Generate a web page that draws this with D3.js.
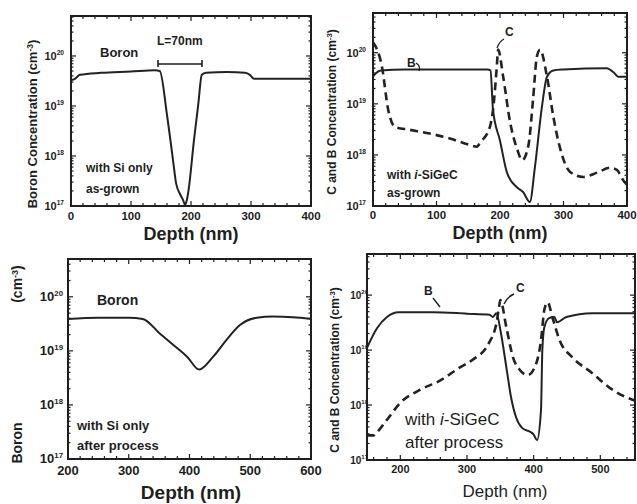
<!DOCTYPE html>
<html>
<head>
<meta charset="utf-8">
<script src="https://cdn.jsdelivr.net/npm/d3@7"></script>
<style>
body { margin: 0; background: #fff; }
svg { display: block; }
text { font-family: "Liberation Sans", Arial, sans-serif; fill: #1e1e1e; }
</style>
</head>
<body>
<svg id="chart" width="637" height="504"></svg>
<script>
// top left: Si only, as-grown
const depthSiGrown = [0, 5, 15, 50, 100, 140, 148, 160, 170, 175, 182, 187, 190, 193, 196, 205, 212, 218, 225, 260, 290, 298, 305, 330, 400];
const boronSiGrown = [3.3e19, 3.4e19, 4.2e19, 4.6e19, 4.9e19, 5.2e19, 5.0e19, 6.6e18, 8.3e17, 2.9e17, 1.7e17, 1.3e17, 1.05e17, 1.3e17, 2.1e17, 2.1e18, 1.05e19, 4.2e19, 4.6e19, 4.8e19, 4.6e19, 4.2e19, 3.5e19, 3.5e19, 3.5e19];

// top right: i-SiGeC, as-grown
const depthGeCGrownB = [0, 5, 12, 50, 180, 185, 189, 200, 211, 227, 236, 247, 255, 266, 274, 284, 300, 368, 380, 386, 400];
const boronGeCGrown = [3.4e19, 4.0e19, 4.5e19, 4.7e19, 4.7e19, 4.5e19, 7.6e18, 1.9e18, 4.5e17, 2.3e17, 1.9e17, 1.2e17, 5.8e17, 8.7e18, 3.4e19, 4.5e19, 4.7e19, 5.0e19, 4.0e19, 3.4e19, 3.4e19];
const depthGeCGrownC = [0, 14, 24, 35, 58, 121, 150, 164, 168, 184, 189, 195, 197, 205, 216, 227, 235, 245, 252, 258, 263, 274, 284, 295, 310, 331, 353, 373, 384, 394, 400];
const carbonGeCGrown = [1.6e20, 5.4e19, 7.6e18, 3.5e18, 3.1e18, 2.1e18, 1.6e18, 1.45e18, 1.7e18, 3.5e18, 7.6e18, 5.4e19, 1.15e20, 3.4e19, 4.3e18, 1.3e18, 7.9e17, 1.6e18, 1.2e19, 8.3e19, 1.15e20, 3.4e19, 5.6e18, 1.3e18, 4.7e17, 3.7e17, 4.5e17, 5.6e17, 5.1e17, 3.2e17, 2.6e17];

// bottom left: Si only, after process
const depthSiProc = [200, 250, 300, 323, 351, 373, 396, 416, 439, 461, 483, 511, 537, 570, 600];
const boronSiProc = [3.9e19, 4.1e19, 4.1e19, 3.9e19, 2.1e19, 1.3e19, 7.8e18, 4.5e18, 7.8e18, 1.6e19, 3.0e19, 4.1e19, 4.3e19, 4.2e19, 3.9e19];

// bottom right: i-SiGeC, after process
const depthGeCProcB = [150, 165, 180, 197, 250, 300, 334, 339, 344, 351, 359, 366, 374, 383, 396, 400, 405, 411, 413, 416, 423, 431, 435, 449, 488, 552];
const boronGeCProc = [1.1e19, 2.5e19, 4.0e19, 4.9e19, 4.9e19, 4.6e19, 4.4e19, 4.0e19, 4.7e19, 2.0e19, 4.9e18, 1.4e18, 5.8e17, 3.8e17, 3.2e17, 2.9e17, 2.3e17, 8.1e17, 1.0e19, 2.6e19, 3.8e19, 4.0e19, 3.2e19, 4.0e19, 4.7e19, 4.7e19];
const depthGeCProcC = [150, 160, 165, 180, 200, 230, 260, 290, 308, 333, 345, 348, 350, 359, 369, 379, 391, 404, 411, 416, 421, 428, 439, 458, 488, 513, 538, 552];
const carbonGeCProc = [2.8e17, 2.8e17, 3.2e17, 5.4e17, 1.1e18, 1.9e18, 2.8e18, 4.9e18, 6.6e18, 1.35e19, 3.5e19, 6.0e19, 8.1e19, 2.6e19, 7.4e18, 4.4e18, 3.5e18, 5.8e18, 1.5e19, 5.4e19, 7.4e19, 4.0e19, 1.5e19, 7.4e18, 3.8e18, 2.1e18, 1.4e18, 1.2e18];

const decades = [1e17, 1e18, 1e19, 1e20];
const xTicksGrown = [0, 100, 200, 300, 400];
const xTicksSiProc = [200, 300, 400, 500, 600];
const xTicksGeCProc = [200, 300, 400, 500];

const svg = d3.select('#chart');
const ink = '#1e1e1e';

const drawPanel = (p) => {
	const x = d3.scaleLinear().domain(p.xDomain).range([p.x0, p.x1]);
	const y = d3.scaleLog().domain([1e17, p.yMax]).range([p.y1, p.y0]);
	const g = svg.append('g');

	// inner ticks, all four sides
	const minorX = d3.range(Math.ceil(p.xDomain[0] / 20) * 20, p.xDomain[1] + 1, 20);
	minorX.forEach(v => {
		const len = v % 100 === 0 ? 5 : 3;
		g.append('line').attr('x1', x(v)).attr('x2', x(v)).attr('y1', p.y1).attr('y2', p.y1 - len)
			.attr('stroke', ink).attr('stroke-width', 1.2);
		g.append('line').attr('x1', x(v)).attr('x2', x(v)).attr('y1', p.y0).attr('y2', p.y0 + len)
			.attr('stroke', ink).attr('stroke-width', 1.2);
	});
	const minorY = [];
	decades.forEach(d => d3.range(1, 10).forEach(k => { if (d * k <= p.yMax) minorY.push([d * k, k === 1]); }));
	minorY.forEach(([v, major]) => {
		const len = major ? 5 : 2.5;
		g.append('line').attr('x1', p.x0).attr('x2', p.x0 + len).attr('y1', y(v)).attr('y2', y(v))
			.attr('stroke', ink).attr('stroke-width', 1.2);
		g.append('line').attr('x1', p.x1).attr('x2', p.x1 - len).attr('y1', y(v)).attr('y2', y(v))
			.attr('stroke', ink).attr('stroke-width', 1.2);
	});

	// curves
	const line = d3.line().x(d => x(d[0])).y(d => y(d[1])).curve(d3.curveMonotoneX);
	p.series.forEach(s => {
		g.append('path')
			.datum(d3.zip(s.x, s.y))
			.attr('d', line)
			.attr('fill', 'none')
			.attr('stroke', '#222')
			.attr('stroke-width', s.dashed ? 2.6 : 2)
			.attr('stroke-dasharray', s.dashed ? '8,5' : null)
			.attr('stroke-linejoin', 'round');
	});

	// frame
	g.append('rect').attr('x', p.x0).attr('y', p.y0).attr('width', p.x1 - p.x0).attr('height', p.y1 - p.y0)
		.attr('fill', 'none').attr('stroke', ink).attr('stroke-width', 2);

	// x tick labels
	p.xTicks.forEach(v => {
		g.append('text').attr('x', x(v)).attr('y', p.y1 + p.xLabelDy)
			.attr('text-anchor', 'middle').attr('font-size', p.xLabelSize).attr('font-weight', 'bold')
			.text(v);
	});

	// y tick labels
	decades.forEach(v => {
		const t = g.append('text').attr('x', p.yLabelX).attr('y', y(v) + 4)
			.attr('text-anchor', 'end').attr('font-size', p.yLabelSize).attr('font-weight', 'bold');
		t.append('tspan').text('10');
		t.append('tspan').attr('dy', -5).attr('font-size', p.yLabelSize * 0.6).text(Math.round(Math.log10(v)));
	});

	// x title
	g.append('text').attr('x', p.xTitle[0]).attr('y', p.xTitle[1])
		.attr('text-anchor', 'middle').attr('font-size', p.xTitle[2]).attr('font-weight', p.xTitle[3])
		.text('Depth (nm)');

	return { x, y, g };
};

const yTitle = (txt, cx, cy, size) => {
	const t = svg.append('text').attr('transform', `translate(${cx},${cy}) rotate(-90)`)
		.attr('text-anchor', 'middle').attr('font-size', size).attr('font-weight', 'bold');
	t.append('tspan').text(txt + ' (cm');
	t.append('tspan').attr('dy', -4).attr('font-size', size * 0.65).text('-3');
	t.append('tspan').attr('dy', 4).text(')');
};

const label = (parts, px, py, size, weight) => {
	const t = svg.append('text').attr('x', px).attr('y', py).attr('font-size', size).attr('font-weight', weight || 'bold');
	parts.forEach(([s, it]) => t.append('tspan').attr('font-style', it ? 'italic' : null).text(s));
};

const path = (d, w) => svg.append('path').attr('d', d).attr('fill', 'none').attr('stroke', ink).attr('stroke-width', w || 1.5);

// ---- top left ----
drawPanel({
	x0: 71, x1: 311, y0: 16, y1: 206, xDomain: [0, 400], yMax: 6.3e20,
	xTicks: xTicksGrown, xLabelDy: 14, xLabelSize: 11.5, yLabelX: 64, yLabelSize: 11,
	xTitle: [191, 240, 18, 'bold'],
	series: [{ x: depthSiGrown, y: boronSiGrown }]
});
yTitle('Boron Concentration', 37, 124, 13);
label([['Boron']], 100, 57, 13);
label([['L=70nm']], 157, 45, 12);
path('M158,60 L158,67 M158,64 L202,64 M202,60 L202,67', 1.6);
label([['with Si only']], 86, 172, 12);
label([['as-grown']], 86, 193, 12);

// ---- top right ----
drawPanel({
	x0: 373, x1: 627, y0: 13, y1: 206, xDomain: [0, 400], yMax: 6e20,
	xTicks: xTicksGrown, xLabelDy: 13, xLabelSize: 11.5, yLabelX: 366, yLabelSize: 11,
	xTitle: [500, 239, 18, 'bold'],
	series: [{ x: depthGeCGrownB, y: boronGeCGrown }, { x: depthGeCGrownC, y: carbonGeCGrown, dashed: true }]
});
yTitle('C and B Concentration', 336, 112, 12);
label([['B']], 407, 67, 12);
path('M416,63 Q421,66 419,71', 1.3);
label([['C']], 505, 36, 12);
path('M504,39 Q499,42 497,48', 1.3);
label([['with '], ['i', true], ['-SiGeC']], 387, 179, 12);
label([['as-grown']], 387, 197, 12);

// ---- bottom left ----
drawPanel({
	x0: 68, x1: 311, y0: 259, y1: 459, xDomain: [200, 600], yMax: 5e20,
	xTicks: xTicksSiProc, xLabelDy: 16, xLabelSize: 13, yLabelX: 63, yLabelSize: 13,
	xTitle: [191, 499, 19, 'bold'],
	series: [{ x: depthSiProc, y: boronSiProc }]
});
svg.append('text').attr('transform', 'translate(22,443) rotate(-90)').attr('text-anchor', 'middle')
	.attr('font-size', 14).attr('font-weight', 'bold').text('Boron');
(() => {
	const t = svg.append('text').attr('transform', 'translate(22,284) rotate(-90)').attr('text-anchor', 'middle')
		.attr('font-size', 14).attr('font-weight', 'bold');
	t.append('tspan').text('(cm');
	t.append('tspan').attr('dy', -4).attr('font-size', 9).text('-3');
	t.append('tspan').attr('dy', 4).text(')');
})();
label([['Boron']], 97, 305, 14);
label([['with Si only']], 77, 430, 13);
label([['after process']], 77, 450, 13);

// ---- bottom right ----
drawPanel({
	x0: 367, x1: 635, y0: 254, y1: 460, xDomain: [150, 552], yMax: 5.6e20,
	xTicks: xTicksGeCProc, xLabelDy: 13, xLabelSize: 11, yLabelX: 368, yLabelSize: 10,
	xTitle: [505, 497, 17, 'normal'],
	series: [{ x: depthGeCProcB, y: boronGeCProc }, { x: depthGeCProcC, y: carbonGeCProc, dashed: true }]
});
yTitle('C and B Concentration', 339, 370, 12);
label([['B']], 424, 295, 12);
path('M433,298 L440,307', 1.4);
label([['C']], 516, 292, 12);
path('M514,294 Q507,297 504,304', 1.4);
label([['with '], ['i', true], ['-SiGeC']], 405, 425, 17, 'normal');
label([['after process']], 405, 448, 17, 'normal');
</script>
</body>
</html>
